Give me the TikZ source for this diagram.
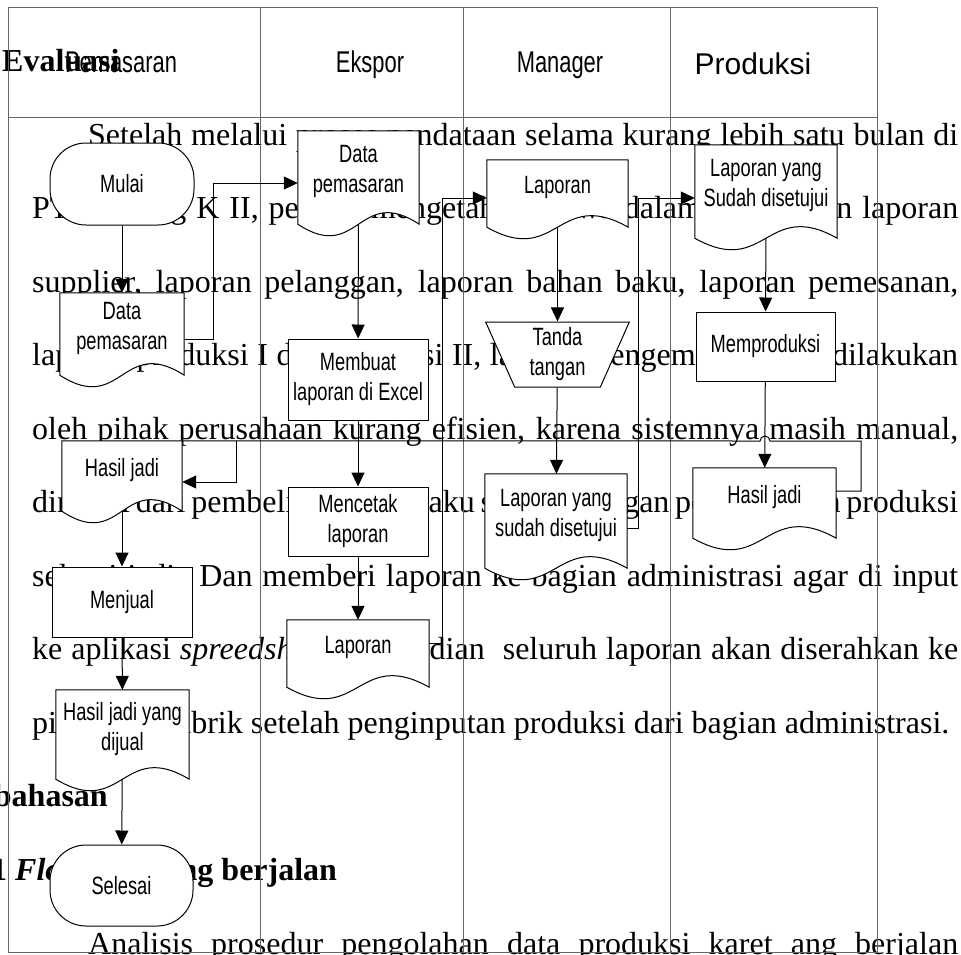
\documentclass[tikz,border=0pt]{standalone}
\usepackage{fontspec}
\setmainfont{Liberation Serif}
\newfontfamily\chartfont[FakeStretch=0.73]{Liberation Sans}
\newfontfamily\wideheadfont{Liberation Sans}
\usetikzlibrary{arrows.meta,positioning,calc,shapes.geometric}
\pgfdeclarelayer{back}
\pgfdeclarelayer{docs}
\pgfsetlayers{back,docs,main}

\tikzset{
  laneline/.style={draw=black!60, line width=1pt},
  flowline/.style={-{Triangle[length=14pt,width=13pt]}, line width=1pt},
  chartnode/.style={font=\chartfont\fontsize{25}{30}\selectfont, align=center, inner sep=0pt},
  procbox/.style={chartnode, draw, fill=white, line width=1pt},
  termbox/.style={procbox, rounded corners=36pt},
  signbox/.style={procbox, trapezium, trapezium angle=70.5, shape border rotate=180, trapezium stretches=true},
  docbox/.style={chartnode, text depth=17pt},
  lanehead/.style={font=\chartfont\fontsize{30}{36}\selectfont, anchor=base, inner sep=0pt},
  pagetext/.style={font=\fontsize{32}{38}\selectfont, anchor=base west, inner sep=0pt},
}

% document outline with wavy bottom
\newcommand{\wavedoc}[1]{%
  \draw[line width=1pt, fill=white] (#1.south west) -- (#1.north west) -- (#1.north east) -- (#1.south east)
    .. controls ($(#1.south)+(0,-40)$) and ($(#1.south)+(0,40)$) .. (#1.south west) -- cycle;}

\begin{document}
\begin{tikzpicture}[x=1pt, y=-1pt]
\useasboundingbox (0,0) rectangle (961,954);

% page text behind the chart
\begin{pgfonlayer}{back}
  \node[pagetext, font=\fontsize{32}{38}\selectfont\bfseries] (evaluasi) at (2,71.5) {Evaluasi};
  \node[pagetext] (par1) at (88,145) {\makebox[870pt][s]{Setelah melalui proses pendataan selama kurang lebih satu bulan di}};
  \node[pagetext] (par2) at (32,218.5) {\makebox[926pt][s]{PT. Bintang K II, penulis mengetahui bahwa dalam pembuatan laporan}};
  \node[pagetext] (par3) at (32,292) {\makebox[926pt][s]{supplier, laporan pelanggan, laporan bahan baku, laporan pemesanan,}};
  \node[pagetext] (par4) at (32,365.5) {\makebox[926pt][s]{laporan produksi I dan produksi II, laporan pengemasan yang dilakukan}};
  \node[pagetext] (par5) at (32,439) {\makebox[926pt][s]{oleh pihak perusahaan kurang efisien, karena sistemnya masih manual,}};
  \node[pagetext] (par6) at (32,512.5) {\makebox[926pt][s]{dimulai dari pembelian bahan baku sampai dengan penyelesaian produksi}};
  \node[pagetext] (par7) at (32,586) {\makebox[926pt][s]{selesai jadi. Dan memberi laporan ke bagian administrasi agar di input}};
  \node[pagetext] (par8) at (32,659.5) {\makebox[926pt][s]{ke aplikasi \textit{spreedsheet}. Kemudian\ \ seluruh laporan akan diserahkan ke}};
  \node[pagetext] (par9) at (32,733) {pimpinan pabrik setelah penginputan produksi dari bagian administrasi.};
  \node[pagetext, anchor=base east, font=\fontsize{32}{38}\selectfont\bfseries] (bahasan) at (108,806.5) {bahasan};
  \node[pagetext, font=\fontsize{32}{38}\selectfont\bfseries] (flowmap) at (-9,880) {1 \textit{Flowmap} yang berjalan};
  \node[pagetext] (analisis) at (88,954.5) {\makebox[870pt][s]{Analisis prosedur pengolahan data produksi karet ang berjalan}};
\end{pgfonlayer}

% swimlanes
\draw[laneline] (8,7) rectangle (877,952);
\draw[laneline] (8,117) -- (877,117);
\foreach \x in {260,463,670}
  \draw[laneline] (\x,7) -- (\x,952);

\node[lanehead] (hPemasaran) at (121,72) {Pemasaran};
\node[lanehead] (hEkspor) at (370,72) {Ekspor};
\node[lanehead] (hManager) at (560,72) {Manager};
\node[lanehead, font=\wideheadfont\fontsize{30}{36}\selectfont] (hProduksi) at (753,74) {Produksi};

% Pemasaran
\node[termbox, minimum width=144pt, minimum height=82pt] (mulai) at (122,184) {Mulai};
\node[docbox, minimum width=124pt, minimum height=82pt] (dataP) at (122,334) {Data\\pemasaran};
\node[docbox, minimum width=120pt, minimum height=70pt] (hasilJ) at (122,476) {Hasil jadi};
\node[procbox, minimum width=140pt, minimum height=70pt] (menjual) at (122,602) {Menjual};
\node[docbox, minimum width=133pt, minimum height=89pt] (dijual) at (122.5,734.5) {Hasil jadi yang\\dijual};
\node[termbox, minimum width=143pt, minimum height=81pt] (selesai) at (121.5,885.5) {Selesai};

% Ekspor
\node[docbox, minimum width=121pt, minimum height=93pt] (dataE) at (358.5,177.5) {Data\\pemasaran};
\node[procbox, minimum width=140pt, minimum height=81pt] (membuat) at (358,379.5) {Membuat\\laporan di Excel};
\node[procbox, minimum width=140pt, minimum height=69pt] (mencetak) at (358,521.5) {Mencetak\\laporan};
\node[docbox, minimum width=142pt, minimum height=67pt] (laporanE) at (358,653.5) {Laporan};

% Manager
\node[docbox, minimum width=141pt, minimum height=67pt] (laporanM) at (557.5,193.5) {Laporan};
\node[signbox, minimum width=145pt, minimum height=65pt] (tanda) at (557.5,354.5) {Tanda\\tangan};
\node[docbox, minimum width=142pt, minimum height=94pt] (setujuM) at (556,521) {Laporan yang\\sudah disetujui};

% Produksi
\node[docbox, minimum width=142pt, minimum height=93pt] (setujuP) at (766,191.5) {Laporan yang\\Sudah disetujui};
\node[procbox, minimum width=139pt, minimum height=69pt] (memproduksi) at (765.5,346.5) {Memproduksi};
\node[docbox, minimum width=143pt, minimum height=70pt] (hasilP) at (764.5,503) {Hasil jadi};

\begin{pgfonlayer}{docs}
  \foreach \d in {dataP,hasilJ,dijual,dataE,laporanE,laporanM,setujuM,setujuP,hasilP}
    {\wavedoc{\d}}
\end{pgfonlayer}

% connectors
\coordinate (turn) at (236,441);
\draw[flowline] (mulai) -- (dataP);
\draw[flowline] ([yshift=-5pt]dataP.east) -- ++(29,0) |- ([yshift=-5.5pt]dataE.west);
\draw[flowline] (dataE) -- (membuat);
\draw[flowline] (membuat) -- (mencetak);
\draw[flowline] (mencetak) -- (laporanE);
\draw[flowline] ([yshift=10.5pt]laporanE.east) -- ++(13,0) |- ([yshift=-4.5pt]laporanM.west);
\draw[flowline] (laporanM) -- (tanda);
\draw[flowline] (tanda) -- (setujuM);
\draw[flowline] ([yshift=-7pt]setujuM.east) -- ++(11,0) |- ([yshift=-6.5pt]setujuP.west);
\draw[flowline] (setujuP) -- (memproduksi);
\draw[flowline] (memproduksi) -- (hasilP);
\draw[line width=1pt] ([yshift=12pt]hasilP.east) -- ++(25,0) -- ++(0,-50) -- (770,441)
  arc[start angle=0, end angle=180, radius=5pt] -- (hasilJ.north east);
\draw[flowline] (turn) |- ([yshift=-6pt]hasilJ.east);
\draw[flowline] (hasilJ) -- (menjual);
\draw[flowline] (menjual) -- (dijual);
\draw[flowline] (dijual) -- (selesai);
\end{tikzpicture}
\end{document}
